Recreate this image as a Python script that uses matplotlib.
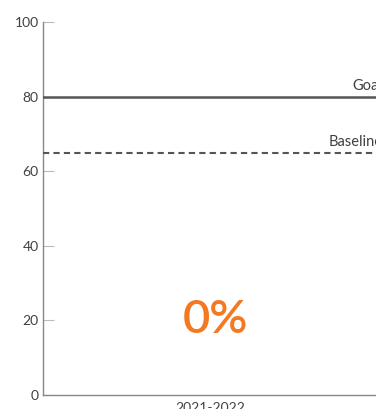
import matplotlib.pyplot as plt
import numpy as np

plt.rcParams['font.family'] = ['Lato', 'DejaVu Sans']

# data
years = ["2021-2022"]
values = [0]
goal = 80
baseline = 65
yticks = [0, 20, 40, 60, 80, 100]

fig = plt.figure(figsize=(3.76, 4.09), dpi=100)
ax = fig.add_axes([0.114, 0.034, 0.89, 0.912])

x = np.arange(len(years))
ax.bar(x, values, width=0.6, color="#8dc63f")
ax.set_xlim(-0.5, 0.5)
ax.set_ylim(0, 100)

ax.axhline(goal, color="#555555", lw=1.8, zorder=3)
ax.axhline(baseline, color="#555555", lw=1.5, ls=(0, (3, 2)), zorder=3)

ax.text(1.015, goal + 1, "Goal", transform=ax.get_yaxis_transform(),
        ha="right", va="bottom", fontsize=10.5, color="#404040")
ax.text(1.015, baseline + 1, "Baseline", transform=ax.get_yaxis_transform(),
        ha="right", va="bottom", fontsize=10.5, color="#404040")

for xi, v in zip(x, values):
    ax.text(xi + 0.015, 20, f"{v}%", ha="center", va="center",
            fontsize=34, fontweight="semibold", color="#f47920")

ax.set_xticks(x)
ax.set_xticklabels(years)
ax.set_yticks(yticks)
ax.tick_params(axis="y", direction="in", length=8, color="#bbbbbb",
               labelsize=10, labelcolor="#404040", pad=3)
ax.tick_params(axis="x", length=0, labelsize=10, labelcolor="#404040", pad=5)

for side in ["top", "right"]:
    ax.spines[side].set_visible(False)
for side in ["left", "bottom"]:
    ax.spines[side].set_color("#888888")
    ax.spines[side].set_linewidth(1)

fig.savefig("out.png", dpi=100)
